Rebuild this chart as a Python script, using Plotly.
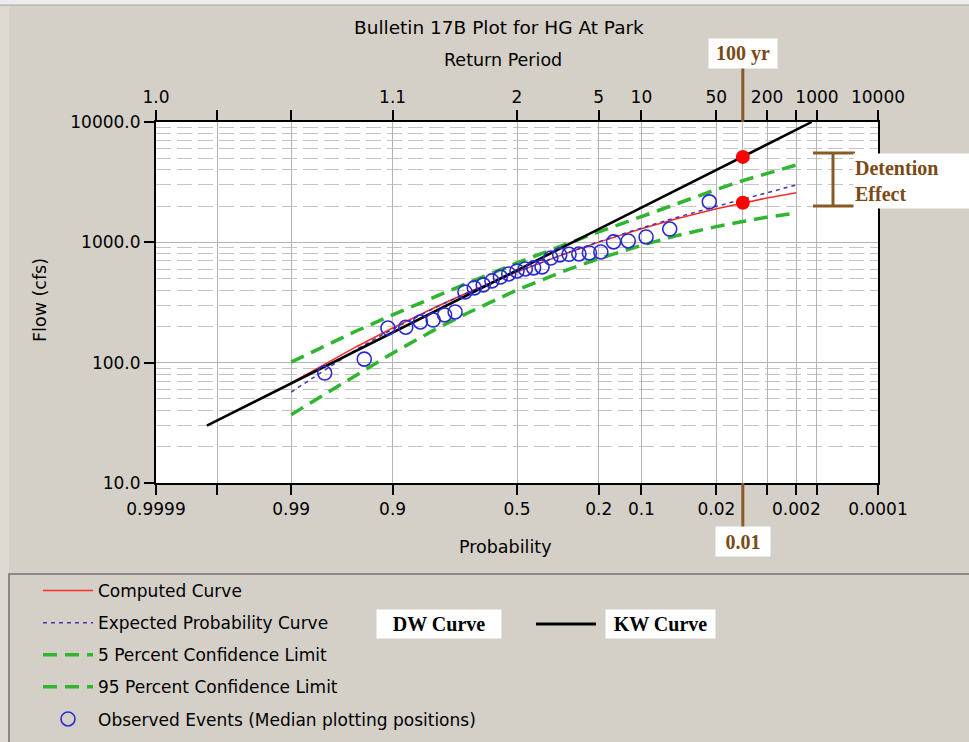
import plotly.graph_objects as go
from statistics import NormalDist

_nd = NormalDist()


def pz(p):
    """Exceedance probability -> standard normal variate (probability-paper scale)."""
    return _nd.inv_cdf(1.0 - p)


# ---------------- data ----------------
curve_prob = [0.99, 0.95, 0.9, 0.8, 0.7, 0.5, 0.3, 0.2, 0.1, 0.05, 0.02, 0.01, 0.005, 0.002]
computed_flow = [68, 137, 194, 289, 377, 568, 820, 1004, 1298, 1570, 1900, 2130, 2337, 2586]
expected_flow = [57, 130, 190, 287, 376, 568, 822, 1010, 1315, 1610, 1990, 2290, 2580, 3000]
conf5_flow = [101, 185, 250, 355, 453, 675, 986, 1222, 1635, 2094, 2748, 3258, 3750, 4395]
conf95_flow = [37, 80, 120, 189, 255, 402, 594, 731, 944, 1137, 1351, 1489, 1618, 1754]

kw_prob = [0.9993, 0.99, 0.9, 0.5, 0.1, 0.01, 0.0012]
kw_flow = [30, 67, 177, 586, 1940, 5140, 10000]

obs_prob = [0.0238, 0.0578, 0.0918, 0.1259, 0.1599, 0.1939, 0.2279, 0.2619, 0.2959,
            0.3299, 0.3639, 0.3980, 0.4320, 0.4660, 0.5000, 0.5340, 0.5680, 0.6020,
            0.6361, 0.6701, 0.7041, 0.7381, 0.7721, 0.8061, 0.8401, 0.8741, 0.9082,
            0.9422, 0.9762]
obs_flow = [2170, 1290, 1108, 1027, 1008, 832, 816, 801, 795, 786, 741, 625, 613, 601,
            578, 546, 515, 478, 443, 418, 387, 264, 249, 226, 218, 197, 194, 107, 82]

marker100_prob = [0.01, 0.01]
marker100_flow = [5130, 2130]

tick_prob = [0.9999, 0.999, 0.99, 0.9, 0.5, 0.2, 0.1, 0.02, 0.01, 0.005, 0.002, 0.001, 0.0001]
bottom_tick_text = ["0.9999", "", "0.99", "0.9", "0.5", "0.2", "0.1", "0.02", "", "", "0.002", "", "0.0001"]
top_tick_text = ["1.0", "", "", "1.1", "2", "5", "10", "50", "", "200", "", "1000", "10000"]
y_tick_vals = [10, 100, 1000, 10000]
y_tick_text = ["10.0", "100.0", "1000.0", "10000.0"]

# ---------------- layout geometry ----------------
W, H = 969, 742
PL, PR, PT, PB = 156, 878, 122, 483


def px2x(px):
    return (px - PL) / (PR - PL)


def py2y(py):
    return (PB - py) / (PB - PT)


SANS = "DejaVu Sans"
SERIF = "Liberation Serif"
BROWN_TXT = "#7a4a17"
BROWN_LN = "#8a5a26"
GREEN = "#2fb52f"

fig = go.Figure()


def zs(probs):
    return [pz(p) for p in probs]


fig.add_trace(go.Scatter(x=zs(curve_prob), y=conf5_flow, mode="lines",
                         name="5 Percent Confidence Limit", legendgroup="c5", legendrank=3,
                         line=dict(color=GREEN, width=3.5, dash="14px,8px")))
fig.add_trace(go.Scatter(x=zs(curve_prob), y=conf95_flow, mode="lines",
                         name="95 Percent Confidence Limit", legendgroup="c95", legendrank=4,
                         line=dict(color=GREEN, width=3.5, dash="14px,8px")))
fig.add_trace(go.Scatter(x=zs(curve_prob), y=computed_flow, mode="lines",
                         name="Computed Curve", legendgroup="cc", legendrank=1,
                         line=dict(color="#ff2a2a", width=1.5)))
fig.add_trace(go.Scatter(x=zs(curve_prob), y=expected_flow, mode="lines",
                         name="Expected Probability Curve", legendgroup="ep", legendrank=2,
                         line=dict(color="#3a3ab0", width=1.5, dash="4px,4px")))
fig.add_trace(go.Scatter(x=zs(kw_prob), y=kw_flow, mode="lines",
                         name="KW Curve", showlegend=False,
                         line=dict(color="black", width=2.5)))
fig.add_trace(go.Scatter(x=zs(obs_prob), y=obs_flow, mode="markers",
                         name="Observed Events (Median plotting positions)",
                         legendgroup="ob", legendrank=5,
                         marker=dict(symbol="circle-open", size=14,
                                     color="#2a2ad0", line=dict(width=1.6))))
fig.add_trace(go.Scatter(x=zs(marker100_prob), y=marker100_flow, mode="markers",
                         showlegend=False, name="100-yr",
                         marker=dict(symbol="circle", size=14, color="#ff0000")))

xr = [pz(0.9999), pz(0.0001)]

fig.update_layout(
    width=W, height=H, autosize=False,
    margin=dict(l=PL, r=W - PR, t=PT, b=H - PB, pad=0, autoexpand=False),
    paper_bgcolor="#d4d0c8", plot_bgcolor="white",
    font=dict(family=SANS, size=17, color="black"),
    showlegend=True,
    legend=dict(x=px2x(38), y=py2y(573), xanchor="left", yanchor="top",
                bgcolor="rgba(0,0,0,0)", font=dict(family=SANS, size=17, color="black"),
                traceorder="grouped", tracegroupgap=7, itemwidth=50),
    xaxis=dict(range=xr, tickmode="array", tickvals=zs(tick_prob), ticktext=bottom_tick_text,
               showgrid=True, gridcolor="#b4b4b4", gridwidth=1, zeroline=False,
               showline=True, linecolor="black", linewidth=2,
               ticks="outside", ticklen=10, tickwidth=1.5, tickcolor="black",
               tickfont=dict(family=SANS, size=17)),
    xaxis2=dict(range=xr, overlaying="x", side="top", anchor="y", tickmode="array",
                tickvals=zs(tick_prob), ticktext=top_tick_text, showgrid=False, zeroline=False,
                showline=True, linecolor="black", linewidth=2,
                ticks="outside", ticklen=10, tickwidth=1.5, tickcolor="black",
                tickfont=dict(family=SANS, size=17)),
    yaxis=dict(type="log", range=[1, 4], tickmode="array", tickvals=y_tick_vals,
               ticktext=y_tick_text, showgrid=True, gridcolor="#b4b4b4", gridwidth=1,
               zeroline=False, showline=True, mirror=True, linecolor="black", linewidth=2,
               ticks="outside", ticklen=10, tickwidth=1.5, tickcolor="black",
               tickfont=dict(family=SANS, size=17),
               minor=dict(tickmode="array",
                          tickvals=[m * 10 ** e for e in (1, 2, 3) for m in range(2, 10)],
                          ticks="", showgrid=True, gridcolor="#c4c4c4", gridwidth=1,
                          griddash="15px,6px")),
)

# invisible trace so the top axis is drawn
fig.add_trace(go.Scatter(x=[xr[0]], y=[10], xaxis="x2", yaxis="y", mode="markers",
                         marker=dict(opacity=0), showlegend=False, hoverinfo="skip"))

ann = []
ann.append(dict(text="Bulletin 17B Plot for HG At Park", x=px2x(499), y=py2y(27), size=18.5))
ann.append(dict(text="Return Period", x=px2x(503), y=py2y(60), size=17.5))
ann.append(dict(text="Probability", x=px2x(505), y=py2y(547), size=17.5))
ann.append(dict(text="Flow (cfs)", x=px2x(40), y=py2y(300), textangle=-90, size=17.5))
for a in ann:
    sz = a.pop("size")
    a.update(xref="paper", yref="paper", showarrow=False, xanchor="center", yanchor="middle",
             font=dict(family=SANS, size=sz, color="black"))

serif_b = dict(family=SERIF, size=20, color=BROWN_TXT)
ann.append(dict(text="<b>100 yr</b>", xref="x", x=pz(0.01), yref="paper", y=py2y(53),
                showarrow=False, bgcolor="white", font=serif_b, width=66, height=27,
                xanchor="center", yanchor="middle"))
ann.append(dict(text="<b>0.01</b>", xref="x", x=pz(0.01), yref="paper", y=py2y(541),
                showarrow=False, bgcolor="white", font=serif_b, width=52, height=27,
                xanchor="center", yanchor="middle"))
ann.append(dict(text="<b>Detention<br>Effect</b>", xref="paper", x=px2x(853), yref="paper",
                y=py2y(181), showarrow=False, bgcolor="white", font=serif_b, align="left",
                width=116, height=52, xanchor="left", yanchor="middle"))
serif_k = dict(family=SERIF, size=20, color="black")
ann.append(dict(text="<b>DW Curve</b>", xref="paper", x=px2x(439), yref="paper", y=py2y(624),
                showarrow=False, bgcolor="white", font=serif_k, width=122, height=26,
                xanchor="center", yanchor="middle"))
ann.append(dict(text="<b>KW Curve</b>", xref="paper", x=px2x(660), yref="paper", y=py2y(624),
                showarrow=False, bgcolor="white", font=serif_k, width=107, height=26,
                xanchor="center", yanchor="middle"))
fig.update_layout(annotations=ann)

shapes = []
# outer panel edges
shapes.append(dict(type="rect", xref="paper", yref="paper", x0=px2x(-2), x1=px2x(9),
                   y0=py2y(760), y1=py2y(6), line=dict(width=0), fillcolor="#dedad3",
                   layer="below"))
shapes.append(dict(type="rect", xref="paper", yref="paper", x0=px2x(-2), x1=px2x(980),
                   y0=py2y(5), y1=py2y(-2), line=dict(width=0), fillcolor="#ececec",
                   layer="below"))
shapes.append(dict(type="line", xref="paper", yref="paper", x0=px2x(-2), x1=px2x(980),
                   y0=py2y(5), y1=py2y(5), line=dict(color="#a8a8a8", width=1),
                   layer="below"))
# legend frame
shapes.append(dict(type="rect", xref="paper", yref="paper", x0=px2x(9), x1=px2x(990),
                   y0=py2y(760), y1=py2y(574), line=dict(color="#707070", width=1.5),
                   fillcolor="rgba(0,0,0,0)", layer="below"))
# KW legend sample
shapes.append(dict(type="line", xref="paper", yref="paper", x0=px2x(536), x1=px2x(596),
                   y0=py2y(624), y1=py2y(624), line=dict(color="black", width=3)))
# 100-yr / 0.01 markers
shapes.append(dict(type="line", xref="x", yref="paper", x0=pz(0.01), x1=pz(0.01),
                   y0=1, y1=py2y(67), line=dict(color=BROWN_LN, width=3)))
shapes.append(dict(type="line", xref="x", yref="paper", x0=pz(0.01), x1=pz(0.01),
                   y0=0, y1=py2y(528), line=dict(color=BROWN_LN, width=3)))
# detention bracket
for yy in (153, 206):
    shapes.append(dict(type="line", xref="paper", yref="paper", x0=px2x(813), x1=px2x(855),
                       y0=py2y(yy), y1=py2y(yy), line=dict(color=BROWN_LN, width=3)))
shapes.append(dict(type="line", xref="paper", yref="paper", x0=px2x(833), x1=px2x(833),
                   y0=py2y(153), y1=py2y(206), line=dict(color=BROWN_LN, width=3)))
fig.update_layout(shapes=shapes)

fig.write_html("out.html")
